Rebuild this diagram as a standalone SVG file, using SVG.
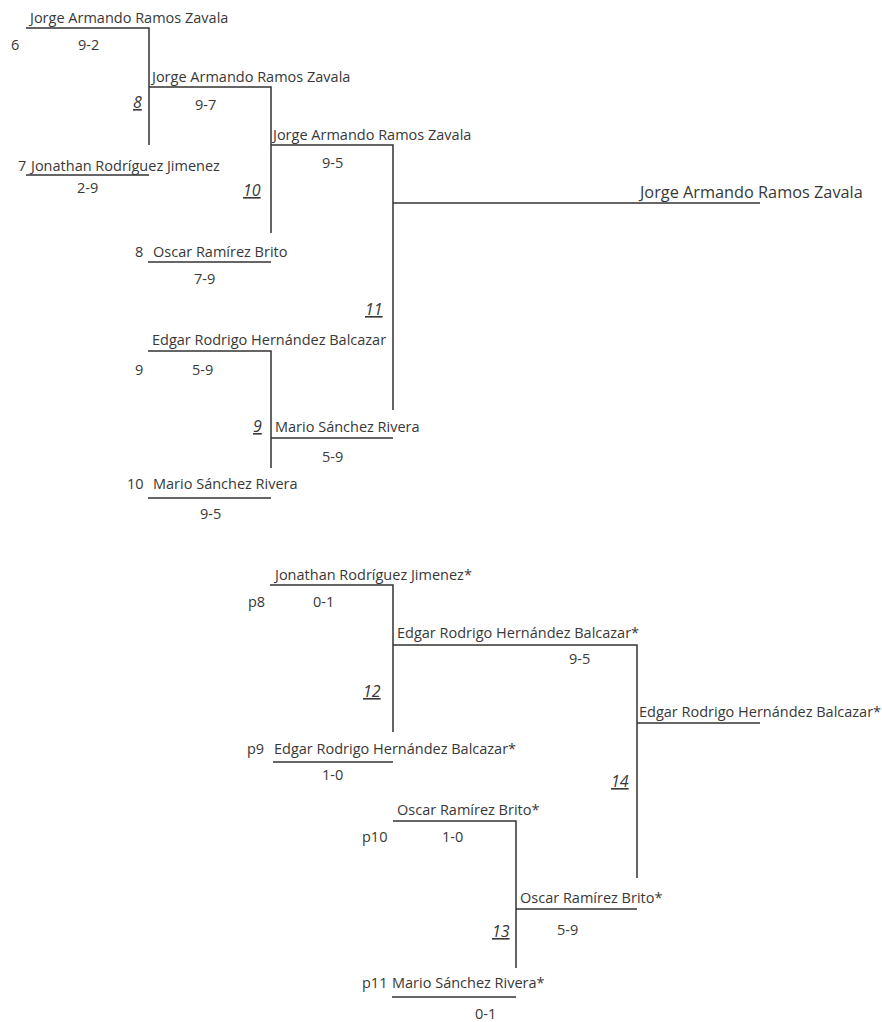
<svg xmlns="http://www.w3.org/2000/svg" width="882" height="1022" viewBox="0 0 882 1022">
<style>
text{font-family:"Open Sans","Liberation Sans",sans-serif;font-size:14.5px;fill:#383838}
.big{font-size:16.3px}
.m{font-style:italic;text-decoration:underline;font-size:16px}
.ln{fill:none;stroke:#333;stroke-width:1.5}
</style>
<rect width="882" height="1022" fill="#fff"/>
<g id="connectors" class="ln">
<path d="M26,28 H149 V145"/>
<path d="M26,175 H149"/>
<path d="M149,87 H271 V233"/>
<path d="M148,262 H271"/>
<path d="M271,145 H393 V410"/>
<path d="M393,203 H760"/>
<path d="M148,351 H271 V468"/>
<path d="M271,438 H393"/>
<path d="M148,498 H271"/>
<path d="M270,585 H393 V732"/>
<path d="M273,762 H393"/>
<path d="M393,645 H637 V878"/>
<path d="M637,723 H760"/>
<path d="M393,821 H516 V968"/>
<path d="M516,909 H637"/>
<path d="M392,997 H516"/>
</g>
<g id="seed6"><text x="30" y="23">Jorge Armando Ramos Zavala</text><text x="11" y="50">6</text><text x="78" y="50">9-2</text></g>
<g id="seed7"><text x="18" y="171">7</text><text x="31" y="171">Jonathan Rodríguez Jimenez</text><text x="77" y="193">2-9</text></g>
<g id="match8"><text class="m" x="133" y="108">8</text><text x="152" y="82">Jorge Armando Ramos Zavala</text><text x="195" y="110">9-7</text></g>
<g id="seed8"><text x="135" y="257">8</text><text x="153" y="257">Oscar Ramírez Brito</text><text x="194" y="284">7-9</text></g>
<g id="match10"><text class="m" x="243" y="196">10</text><text x="273" y="140">Jorge Armando Ramos Zavala</text><text x="322" y="168">9-5</text></g>
<g id="match11"><text class="m" x="365" y="315">11</text><text class="big" x="640" y="198">Jorge Armando Ramos Zavala</text></g>
<g id="seed9"><text x="152" y="345">Edgar Rodrigo Hernández Balcazar</text><text x="135" y="375">9</text><text x="192" y="375">5-9</text></g>
<g id="match9"><text class="m" x="253" y="432">9</text><text x="275" y="432">Mario Sánchez Rivera</text><text x="322" y="462">5-9</text></g>
<g id="seed10"><text x="127" y="489">10</text><text x="153" y="489">Mario Sánchez Rivera</text><text x="200" y="519">9-5</text></g>
<g id="p8"><text x="275" y="580">Jonathan Rodríguez Jimenez*</text><text x="248" y="607">p8</text><text x="313" y="607">0-1</text></g>
<g id="match12"><text class="m" x="363" y="697">12</text><text x="397" y="638">Edgar Rodrigo Hernández Balcazar*</text><text x="569" y="664">9-5</text></g>
<g id="p9"><text x="247" y="754">p9</text><text x="274" y="754">Edgar Rodrigo Hernández Balcazar*</text><text x="322" y="780">1-0</text></g>
<g id="match14"><text class="m" x="611" y="787">14</text><text x="639" y="717">Edgar Rodrigo Hernández Balcazar*</text></g>
<g id="p10"><text x="397" y="815">Oscar Ramírez Brito*</text><text x="362" y="842">p10</text><text x="442" y="842">1-0</text></g>
<g id="match13"><text class="m" x="492" y="937">13</text><text x="520" y="903">Oscar Ramírez Brito*</text><text x="557" y="935">5-9</text></g>
<g id="p11"><text x="362" y="988">p11</text><text x="392" y="988">Mario Sánchez Rivera*</text><text x="475" y="1019">0-1</text></g>
</svg>
